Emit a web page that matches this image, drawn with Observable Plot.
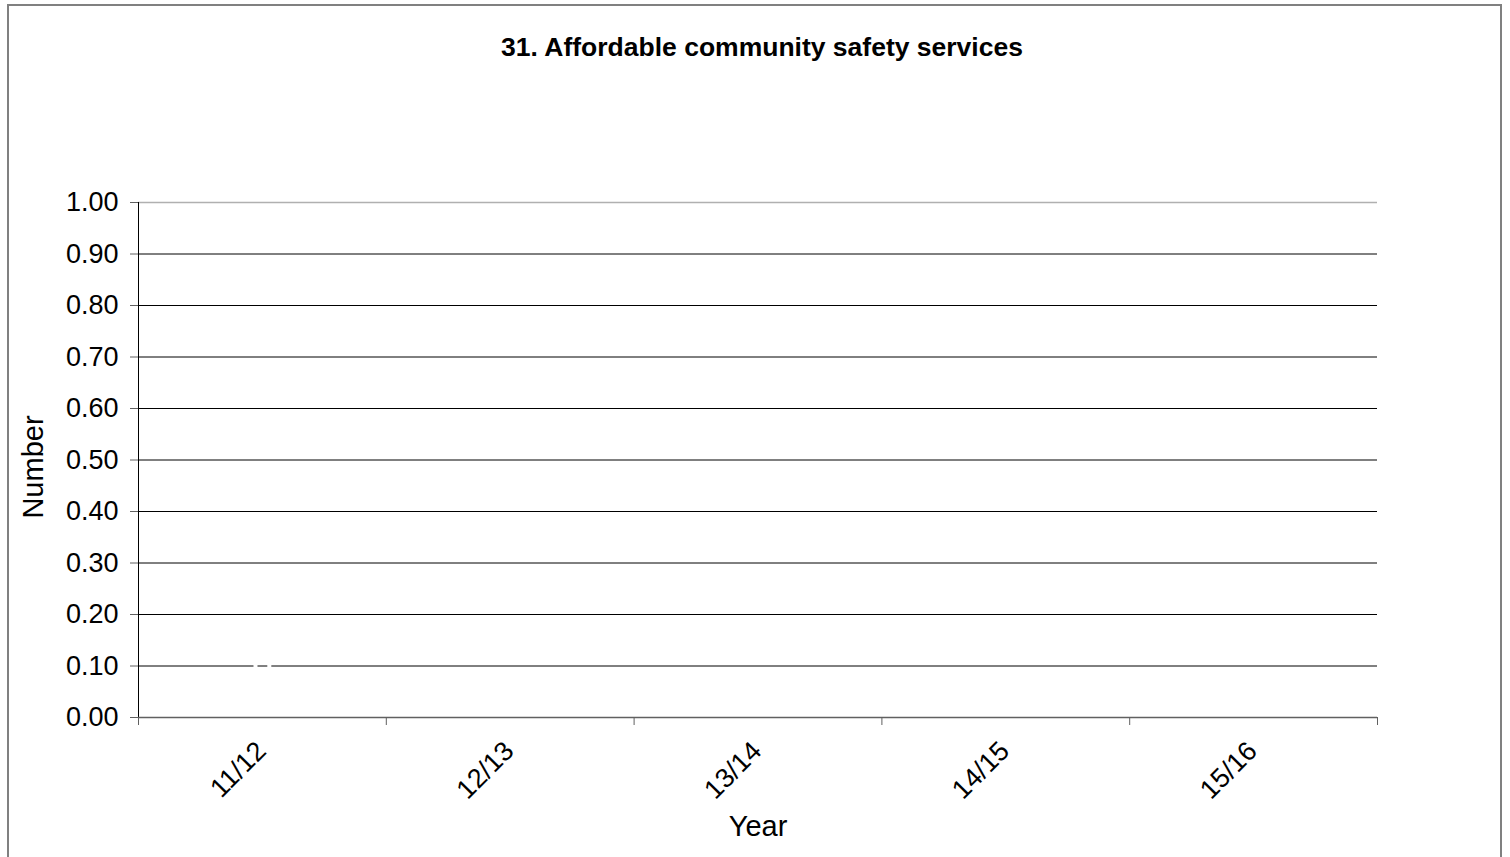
<!DOCTYPE html>
<html>
<head>
<meta charset="utf-8">
<script src="https://cdn.jsdelivr.net/npm/d3@7"></script>
<script src="https://cdn.jsdelivr.net/npm/@observablehq/plot@0.6"></script>
<style>
  html, body { margin: 0; padding: 0; background: #fff; }
  #wrap { position: relative; width: 1510px; height: 857px; overflow: hidden; font-family: "Liberation Sans", Arial, sans-serif; }
  #border { position: absolute; left: 7px; top: 4px; width: 1495px; height: 900px; border: 2px solid #808080; box-sizing: border-box; pointer-events: none; }
  #title { position: absolute; left: 6px; top: 32px; width: 1512px; text-align: center; font-weight: bold; font-size: 26.5px; line-height: 1.15; color: #000; }
  #chart { position: absolute; left: 0; top: 0; }
</style>
</head>
<body>
<div id="wrap">
  <div id="chart"></div>
  <div id="border"></div>
  <div id="title">31. Affordable community safety services</div>
</div>
<script>
const categories = ["11/12", "12/13", "13/14", "14/15", "15/16"];
const values = [0.1, null, null, null, null];
const yTicks = [0, 0.1, 0.2, 0.3, 0.4, 0.5, 0.6, 0.7, 0.8, 0.9, 1.0];
const yLabel = "Number";
const xLabel = "Year";

const data = categories.map((c, i) => ({ cat: c, idx: i + 0.5, value: values[i] }));
const boundaries = d3.range(categories.length + 1);
const gridTicks = yTicks.filter(t => t > 0 && t < 1);

const chart = Plot.plot({
  width: 1510,
  height: 857,
  marginLeft: 138,
  marginRight: 133,
  marginTop: 202,
  marginBottom: 140,
  style: { fontFamily: "Liberation Sans, Arial, sans-serif", background: "transparent", color: "#000" },
  x: { type: "linear", domain: [0, categories.length] },
  y: { type: "linear", domain: [0, 1] },
  marks: [
    // gridlines
    Plot.ruleY(gridTicks, { stroke: "#000", strokeWidth: 1 }),
    Plot.ruleY([1], { stroke: "#b0b0b0", strokeWidth: 1.5 }),
    // y axis
    Plot.axisY({ ticks: yTicks, tickFormat: d => d.toFixed(2), tickSize: 8, tickPadding: 12, fontSize: 27, stroke: "#606060", label: null }),
    Plot.ruleX([0], { stroke: "#000", strokeWidth: 1 }),
    // x axis line and category boundary ticks
    Plot.ruleY([0], { stroke: "#606060", strokeWidth: 1.5 }),
    Plot.axisX({ ticks: boundaries, tickFormat: () => "", tickSize: 8, stroke: "#606060", label: null }),
    // category labels
    Plot.text(data, { x: "idx", frameAnchor: "bottom", text: "cat", rotate: -45, textAnchor: "end", lineAnchor: "middle", dy: 29, dx: -1, fontSize: 27, fill: "#000" }),
    // data (white series marker)
    Plot.dot(data.filter(d => d.value != null), { x: "idx", y: "value", r: 7, fill: "none", stroke: "#fff", strokeWidth: 4 }),
    // axis titles
    Plot.text([yLabel], { frameAnchor: "left", textAnchor: "middle", dx: -105, dy: 7, rotate: -90, fontSize: 29, fill: "#000" }),
    Plot.text([xLabel], { frameAnchor: "bottom", dy: 118, fontSize: 29, fill: "#000" })
  ]
});
document.getElementById("chart").appendChild(chart);
</script>
</body>
</html>
